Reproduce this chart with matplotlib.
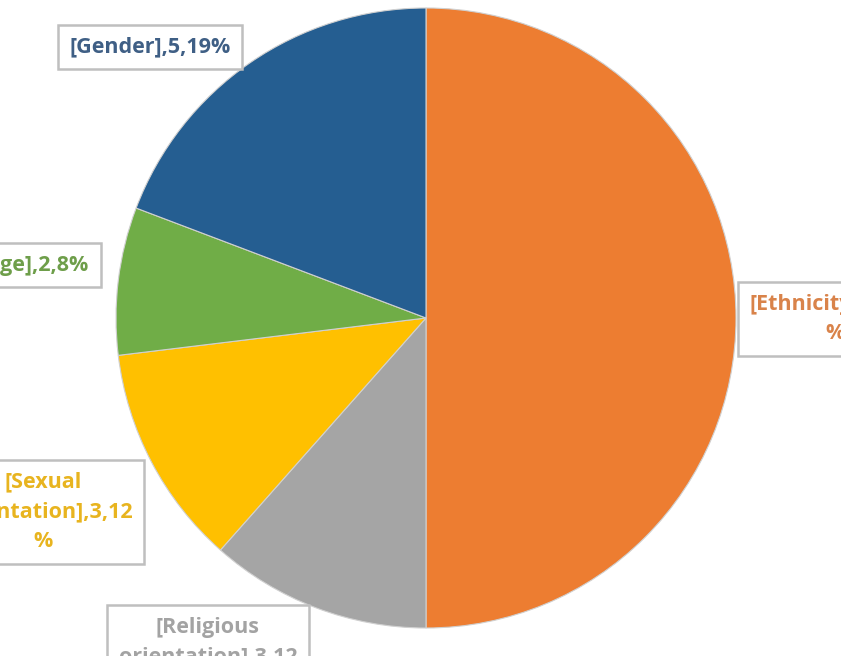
import matplotlib
matplotlib.use("Agg")
import matplotlib.pyplot as plt

categories = ["Ethnicity", "Religious orientation", "Sexual orientation", "Age", "Gender"]
values = [13, 3, 3, 2, 5]
colors = ["#ED7D31", "#A5A5A5", "#FFC000", "#70AD47", "#255E91"]
text_colors = ["#D9834A", "#A3A3A3", "#E8B41F", "#6E9E4A", "#3F5F85"]
label_texts = [
    "[Ethnicity],13,50\n%",
    "[Religious\norientation],3,12\n%",
    "[Sexual\norientation],3,12\n%",
    "[Age],2,8%",
    "[Gender],5,19%",
]
# label centres in pixel coords (x, y from top)
label_pos = [(835, 319), (208, 657), (43, 512), (34, 265), (150, 47)]

W, H = 841, 656
fig = plt.figure(figsize=(W / 100, H / 100), dpi=100)
ax = fig.add_axes([0, 0, 1, 1])

cx, cy, r = 426, H - 318, 310
ax.pie(values, colors=colors, startangle=90, counterclock=False,
       center=(cx, cy), radius=r, frame=True,
       wedgeprops=dict(edgecolor="#D0D0D0", linewidth=0.8))
ax.set_xlim(0, W)
ax.set_ylim(0, H)
ax.set_aspect("equal")
ax.axis("off")

for txt, (x, y), c in zip(label_texts, label_pos, text_colors):
    ax.text(x, H - y, txt, ha="center", va="center", ma="center",
            fontsize=15.5, fontweight="bold", color=c, family=["Open Sans", "DejaVu Sans"],
            linespacing=1.55,
            bbox=dict(boxstyle="square,pad=0.55", facecolor="white",
                      edgecolor="#BFBFBF", linewidth=1.8))

fig.savefig("out.png", dpi=100)
